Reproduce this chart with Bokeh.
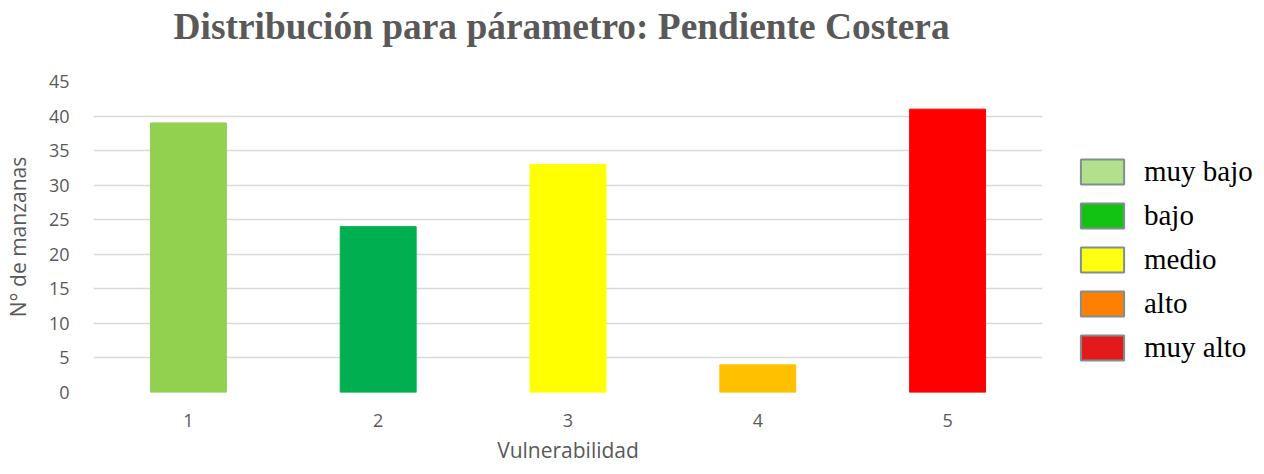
from bokeh.plotting import figure
from bokeh.layouts import row
from bokeh.models import ColumnDataSource, Legend, LegendItem, FixedTicker, Range1d, Title
from bokeh.embed import file_html
from bokeh.resources import INLINE

categories = ["1", "2", "3", "4", "5"]
counts = [39, 24, 33, 4, 41]
bar_colors = ["#92D050", "#00B050", "#FFFF00", "#FFC000", "#FF0000"]
legend_labels = ["muy bajo", "bajo", "medio", "alto", "muy alto"]
legend_colors = ["#B3E08C", "#12C312", "#FFFF12", "#FF8000", "#E31A1C"]
y_ticks = [0, 5, 10, 15, 20, 25, 30, 35, 40, 45]

p = figure(width=1050, height=466, x_range=categories, y_range=(0, 45),
           output_backend="svg", toolbar_location=None,
           min_border_left=84, min_border_right=8, min_border_top=81, min_border_bottom=72)

# spacer between title and plot frame
p.add_layout(Title(text=" ", text_font_size="1px", standoff=30), "above")

p.title.text = "Distribución para párametro: Pendiente Costera"
p.title.text_font = "Liberation Serif"
p.title.text_font_size = "37.4px"
p.title.text_font_style = "bold"
p.title.text_color = "#595959"
p.title.align = "left"
p.title.offset = 80
p.title.standoff = 4

src = ColumnDataSource(dict(x=categories, top=counts, color=bar_colors))
p.vbar(x="x", top="top", width=0.4, color="color", source=src)

p.outline_line_color = None
p.xgrid.grid_line_color = None
p.ygrid.grid_line_color = "#D9D9D9"
p.ygrid.grid_line_width = 1.5
p.yaxis.ticker = FixedTicker(ticks=y_ticks)

for ax in (p.xaxis, p.yaxis):
    ax.axis_line_color = None
    ax.major_tick_line_color = None
    ax.minor_tick_line_color = None
    ax.major_label_text_font = "Open Sans"
    ax.major_label_text_font_size = "18px"
    ax.major_label_text_color = "#595959"
    ax.axis_label_text_font = "Open Sans"
    ax.axis_label_text_font_size = "21px"
    ax.axis_label_text_color = "#595959"
    ax.axis_label_text_font_style = "normal"

p.xaxis.axis_label = "Vulnerabilidad"
p.yaxis.axis_label = "N° de manzanas"
p.xaxis.major_label_standoff = 15
p.yaxis.major_label_standoff = 18
p.xaxis.axis_label_standoff = 6
p.yaxis.axis_label_standoff = 14

# legend panel
lg = figure(width=206, height=466, x_range=Range1d(0, 1), y_range=Range1d(0, 1),
            output_backend="svg", toolbar_location=None,
            x_axis_type=None, y_axis_type=None,
            min_border_left=0, min_border_right=0, min_border_top=0, min_border_bottom=0)
lg.outline_line_color = None
lg.xgrid.visible = False
lg.ygrid.visible = False

items = []
for lab, col in zip(legend_labels, legend_colors):
    r = lg.rect(x=[5], y=[5], width=0.1, height=0.1, fill_color=col,
                line_color="#7F8F8F", line_width=2)
    items.append(LegendItem(label=lab, renderers=[r]))

legend = Legend(items=items, location=(25, 28), orientation="vertical",
                glyph_width=54, glyph_height=31, label_text_font="Liberation Serif",
                label_text_font_size="29px", label_text_color="#000000",
                spacing=11, padding=0, margin=0, border_line_color=None,
                background_fill_alpha=0, label_standoff=15, label_height=30)
lg.add_layout(legend, "center")

layout = row(p, lg)
open("out.html", "w").write(file_html(layout, INLINE))
